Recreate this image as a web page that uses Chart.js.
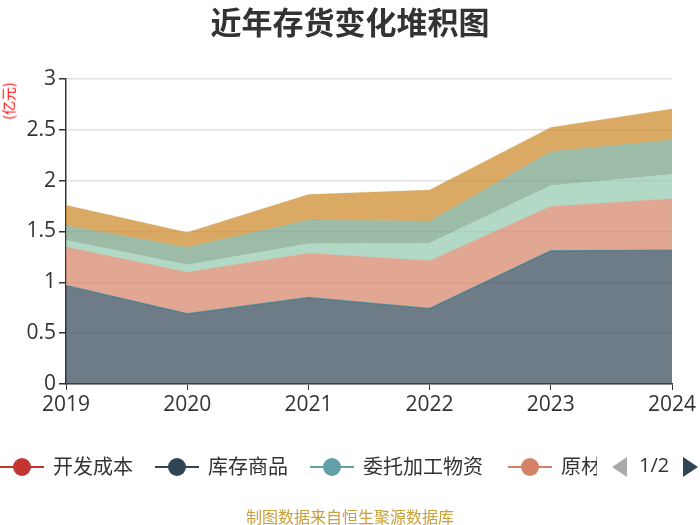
<!DOCTYPE html>
<html><head><meta charset="utf-8">
<script src="https://cdn.jsdelivr.net/npm/chart.js@4.4.1/dist/chart.umd.min.js"></script>
<style>
html,body{margin:0;padding:0;background:#fff;}
#wrap{position:relative;width:700px;height:525px;overflow:hidden;font-family:"Open Sans","Noto Sans CJK SC",sans-serif;}
#title{position:absolute;left:0;top:1px;width:700px;text-align:center;font:bold 31px "Noto Sans CJK SC",sans-serif;color:#333;line-height:40px;}
#unit{position:absolute;left:-11px;top:92px;transform:rotate(-90deg);color:#f00;font:14px "Noto Sans CJK SC",sans-serif;white-space:nowrap;line-height:18px;}
#legend{position:absolute;left:0;top:451px;width:597px;height:32px;overflow:hidden;white-space:nowrap;}
.li{position:absolute;top:0;height:32px;}
.li .ln{position:absolute;top:15px;height:2px;width:44px;left:0;}
.li .dot{position:absolute;top:7px;left:13px;width:18px;height:18px;border-radius:50%;}
.li .tx{position:absolute;left:53px;top:0;line-height:32px;font:20px "Noto Sans CJK SC",sans-serif;color:#333;}
#pager{position:absolute;left:612px;top:451px;height:32px;width:90px;}
#footer{position:absolute;left:0;top:506px;width:700px;text-align:center;color:#c9a03a;font:16px "Noto Sans CJK SC",sans-serif;line-height:20px;}
canvas{position:absolute;left:0;top:0;}
</style></head>
<body><div id="wrap">
<canvas id="c" width="700" height="525"></canvas>
<div id="title">近年存货变化堆积图</div>
<div id="unit">(亿元)</div>
<div id="legend"></div>
<div id="pager">
 <div style="position:absolute;left:0;top:6px;width:0;height:0;border-top:10px solid transparent;border-bottom:10px solid transparent;border-right:15px solid #aaa;"></div>
 <div style="position:absolute;left:27px;top:0;line-height:32px;font:20px 'Open Sans',sans-serif;color:#333;">1/2</div>
 <div style="position:absolute;left:71px;top:6px;width:0;height:0;border-top:10px solid transparent;border-bottom:10px solid transparent;border-left:15px solid #2f4554;"></div>
</div>
<div id="footer">制图数据来自恒生聚源数据库</div>
</div>
<script>
const years = ["2019","2020","2021","2022","2023","2024"];
const seriesNames = ["开发成本","库存商品","委托加工物资","原材料","在产品","周转材料","发出商品"];
const kaifa    = [0, 0, 0, 0, 0, 0];
const kucun    = [0.967, 0.689, 0.849, 0.741, 1.308, 1.315];
const weituo   = [0.003, 0.003, 0.003, 0.003, 0.003, 0.003];
const yuancai  = [0.377, 0.406, 0.433, 0.469, 0.436, 0.505];
const zaichan  = [0.066, 0.075, 0.095, 0.174, 0.206, 0.239];
const zhouzhuan= [0.147, 0.171, 0.233, 0.216, 0.335, 0.341];
const fachu    = [0.197, 0.147, 0.252, 0.305, 0.236, 0.302];
const yTicks = [0, 0.5, 1, 1.5, 2, 2.5, 3];
const colors = ["#c23531","#2f4554","#61a0a8","#d48265","#91c7ae","#749f83","#ca8622"];
const values = [kaifa,kucun,weituo,yuancai,zaichan,zhouzhuan,fachu];

function rgba(hex,a){const n=parseInt(hex.slice(1),16);return `rgba(${n>>16},${(n>>8)&255},${n&255},${a})`;}

const datasets = values.map((v,i)=>({
  label: seriesNames[i], data: v, stack:"s",
  fill: i===0 ? "origin" : "-1",
  backgroundColor: rgba(colors[i],0.7),
  borderColor: i===2 ? rgba(colors[i],0.9) : rgba(colors[i],0.25),
  borderWidth: i===2 ? 1.2 : 0.8,
  pointRadius: 0, tension: 0
}));

// HTML legend (first page)
const lg = document.getElementById("legend");
const lefts = [0,155,310,508];
for(let i=0;i<4;i++){
  const d=document.createElement("div");d.className="li";d.style.left=lefts[i]+"px";
  d.innerHTML=`<div class="ln" style="background:${colors[i]}"></div><div class="dot" style="background:${colors[i]}"></div><div class="tx">${seriesNames[i]}</div>`;
  lg.appendChild(d);
}

new Chart(document.getElementById("c"),{
  type:"line",
  data:{labels:years,datasets},
  options:{
    responsive:false,animation:false,
    layout:{padding:{top:79,left:0,right:28,bottom:0}},
    plugins:{legend:{display:false},title:{display:false},tooltip:{enabled:false}},
    scales:{
      x:{
        offset:false,
        grid:{drawOnChartArea:false,tickColor:"#333",tickLength:6},
        border:{color:"#333",width:1.5},
        ticks:{color:"#333",font:{family:"Open Sans",size:21},padding:2,maxRotation:0,autoSkip:false},
        afterFit(s){s.height=525-384;}
      },
      y:{
        stacked:true,min:0,max:3,
        afterBuildTicks(s){s.ticks=yTicks.map(v=>({value:v}));},
        grid:{color:"#e2e2e2",tickColor:"#333",tickLength:7,lineWidth:1.5},
        border:{color:"#333",width:1.5},
        ticks:{color:"#333",font:{family:"Open Sans",size:21},padding:3,callback:(v)=>String(v)},
        afterFit(s){s.width=66;}
      }
    }
  }
});
</script>
</body></html>
